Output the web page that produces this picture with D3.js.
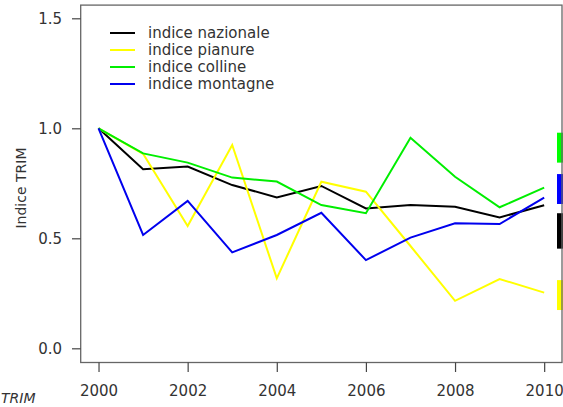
<!DOCTYPE html>
<html>
<head>
<meta charset="utf-8">
<script src="https://cdn.jsdelivr.net/npm/d3@7"></script>
<style>
  html, body { margin: 0; padding: 0; background: #fff; }
  svg { display: block; font-family: "DejaVu Sans", Verdana, sans-serif; }
</style>
</head>
<body>
<svg id="chart" width="563" height="407"></svg>
<script>
// ---- data ----
const years = [2000, 2001, 2002, 2003, 2004, 2005, 2006, 2007, 2008, 2009, 2010];
const nazionale = [1.0, 0.814, 0.826, 0.742, 0.686, 0.738, 0.636, 0.651, 0.643, 0.595, 0.650];
const pianure   = [1.0, 0.884, 0.556, 0.924, 0.318, 0.757, 0.712, 0.465, 0.216, 0.315, 0.253];
const colline   = [1.0, 0.886, 0.844, 0.776, 0.758, 0.651, 0.614, 0.957, 0.780, 0.641, 0.730];
const montagne  = [1.0, 0.515, 0.670, 0.436, 0.515, 0.616, 0.401, 0.503, 0.568, 0.565, 0.685];
const seriesNames = ["indice nazionale", "indice pianure", "indice colline", "indice montagne"];
const seriesColors = ["#000000", "#ffff00", "#00ee00", "#0000ee"];
// ranges shown as bars at the right edge
const rangeNames = ["colline", "montagne", "nazionale", "pianure"];
const rangeLo = [0.844, 0.656, 0.453, 0.174];
const rangeHi = [0.980, 0.792, 0.614, 0.310];
const rangeColors = ["#00ff00", "#0000ff", "#000000", "#ffff00"];
const yTicks = [0.0, 0.5, 1.0, 1.5];
const xTicks = [2000, 2002, 2004, 2006, 2008, 2010];
const yTitle = "Indice TRIM";
const caption = "TRIM";

// ---- layout ----
const svg = d3.select("#chart");
const box = { left: 80.7, right: 562, top: 5.1, bottom: 362.5 };
const x = d3.scaleLinear().domain([1999.6, 2010.4]).range([box.left, box.right]);
const y = d3.scaleLinear().domain([-0.0645, 1.56]).range([box.bottom, box.top]);

const allSeries = [nazionale, pianure, colline, montagne];

// lines
const line = d3.line().x((d, i) => x(years[i])).y(d => y(d));
svg.append("g").selectAll("path").data(allSeries).join("path")
  .attr("d", d => line(d))
  .attr("fill", "none")
  .attr("stroke", (d, i) => seriesColors[i])
  .attr("stroke-width", 2)
  .attr("stroke-linejoin", "miter");

// range bars on the right
svg.append("g").selectAll("rect").data(rangeNames).join("rect")
  .attr("x", 557)
  .attr("width", 6)
  .attr("y", (d, i) => y(rangeHi[i]))
  .attr("height", (d, i) => y(rangeLo[i]) - y(rangeHi[i]))
  .attr("fill", (d, i) => rangeColors[i]);

// box
svg.append("rect")
  .attr("x", box.left).attr("y", box.top)
  .attr("width", box.right - box.left).attr("height", box.bottom - box.top)
  .attr("fill", "none").attr("stroke", "#666").attr("stroke-width", 1.3);

// y axis
const yAxis = d3.axisLeft(y).tickValues(yTicks).tickFormat(d3.format(".1f")).tickSize(8.7).tickPadding(10);
const gy = svg.append("g").attr("transform", `translate(${box.left},0)`).call(yAxis);
gy.select(".domain").remove();
gy.selectAll("line").attr("stroke", "#444").attr("stroke-width", 1.2);
gy.selectAll("text").attr("font-size", 15).attr("font-family", "DejaVu Sans").attr("fill", "#333");

// x axis
const xAxis = d3.axisBottom(x).tickValues(xTicks).tickFormat(d3.format("d")).tickSize(9.5).tickPadding(13.5);
const gx = svg.append("g").attr("transform", `translate(0,${box.bottom})`).call(xAxis);
gx.select(".domain").remove();
gx.selectAll("line").attr("stroke", "#444").attr("stroke-width", 1.2);
gx.selectAll("text").attr("font-size", 15).attr("font-family", "DejaVu Sans").attr("fill", "#333");

// y title
svg.append("text")
  .attr("transform", "translate(26,188) rotate(-90)")
  .attr("text-anchor", "middle")
  .attr("font-size", 14)
  .attr("fill", "#333")
  .text(yTitle);

// caption at the bottom-left corner
svg.append("text")
  .attr("x", 1).attr("y", 403)
  .attr("text-anchor", "start")
  .attr("font-size", 14)
  .attr("font-style", "italic")
  .attr("fill", "#333")
  .text(caption);

// legend
const lg = svg.append("g");
seriesNames.forEach((name, i) => {
  const ly = 33 + i * 17;
  lg.append("line").attr("x1", 110).attr("x2", 135).attr("y1", ly).attr("y2", ly)
    .attr("stroke", seriesColors[i]).attr("stroke-width", 2);
  lg.append("text").attr("x", 148).attr("y", ly + 5)
    .attr("font-size", 15).attr("fill", "#333").text(name);
});
</script>
</body>
</html>
